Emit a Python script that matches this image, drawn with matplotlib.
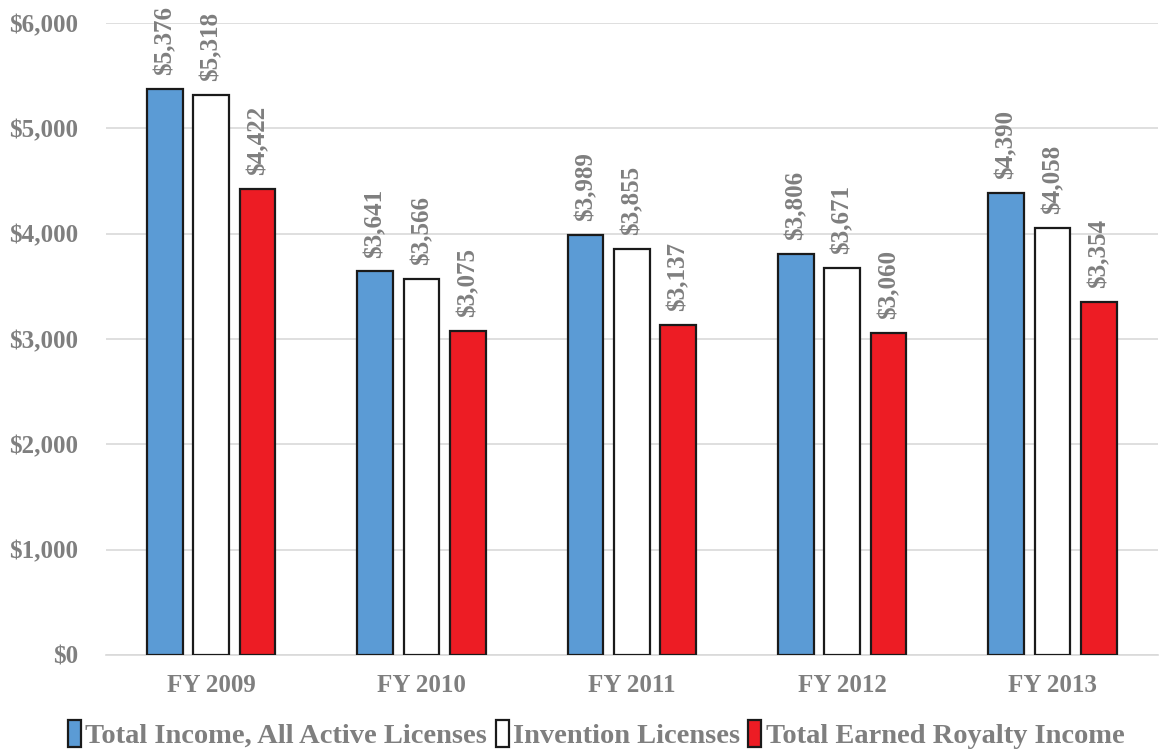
import matplotlib
matplotlib.use("Agg")
import matplotlib.pyplot as plt
from matplotlib.font_manager import FontProperties
import numpy as np

categories = ["FY 2009", "FY 2010", "FY 2011", "FY 2012", "FY 2013"]
total_income = [5376, 3641, 3989, 3806, 4390]
invention = [5318, 3566, 3855, 3671, 4058]
royalty = [4422, 3075, 3137, 3060, 3354]
series_names = ["Total Income, All Active Licenses", "Invention Licenses", "Total Earned Royalty Income"]
yticks = [0, 1000, 2000, 3000, 4000, 5000, 6000]

plt.rcParams['font.family'] = ['Liberation Serif', 'DejaVu Serif']
plt.rcParams['font.weight'] = 'bold'
gray = '#7f7f7f'

fig = plt.figure(figsize=(11.6, 7.5), dpi=100)
ax = fig.add_axes([0.0914, 0.1267, 0.9066, 0.8426])

lab_fp = FontProperties(family='Liberation Serif', weight='bold', size=18)

x = np.arange(len(categories))
w = 0.17
off = 0.22
colors = ['#5B9BD5', '#FFFFFF', '#ED1C24']
data = [total_income, invention, royalty]
for i, (vals, c, name) in enumerate(zip(data, colors, series_names)):
    bars = ax.bar(x + (i - 1) * off, vals, width=w, color=c, edgecolor='#1a1a1a',
                  linewidth=1.6, label=name, zorder=3)
    for b, v in zip(bars, vals):
        ax.annotate(f"${v:,}", (b.get_x() + b.get_width() / 2, v), xytext=(0, 10),
                    textcoords='offset points', rotation=90, ha='center', va='bottom',
                    fontproperties=lab_fp, color=gray, annotation_clip=False)

ax.set_xlim(-0.5, len(categories) - 0.5)
ax.set_ylim(0, 6000)
ax.set_yticks(yticks)
ax.set_yticklabels([f"${t:,}" for t in yticks])
ax.set_xticks(x)
ax.set_xticklabels(categories)
ax.yaxis.grid(True, color='#d9d9d9', linewidth=1.2, zorder=0)
ax.set_axisbelow(True)
for s in ['top', 'right', 'left']:
    ax.spines[s].set_visible(False)
ax.spines['bottom'].set_color('#d9d9d9')
ax.spines['bottom'].set_linewidth(1.2)
ax.tick_params(axis='both', length=0, labelsize=18, labelcolor=gray)
ax.tick_params(axis='y', pad=20)
ax.tick_params(axis='x', pad=14)
for lab in ax.get_xticklabels() + ax.get_yticklabels():
    lab.set_fontweight('bold')

leg = fig.legend(loc='lower center', bbox_to_anchor=(0.514, -0.033), ncol=3, frameon=False,
                 handlelength=0.45, handleheight=1.1, handletextpad=0.15,
                 columnspacing=0.3, prop={'family': 'Liberation Serif', 'weight': 'bold', 'size': 20.5})
for t in leg.get_texts():
    t.set_color(gray)

fig.savefig('out.png', dpi=100)
